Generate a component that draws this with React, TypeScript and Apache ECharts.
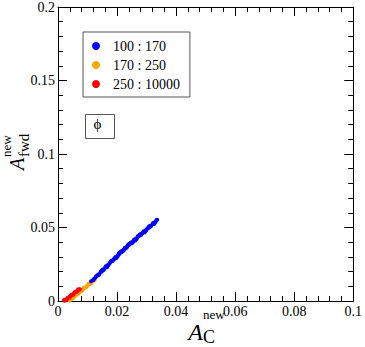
import React, { useEffect, useRef } from "react";
import * as echarts from "echarts";

const seriesNames = ["100 : 170", "170 : 250", "250 : 10000"];
const seriesColors = ["#0000ff", "#ffa500", "#ff0000"];
const xTicks = [0, 0.02, 0.04, 0.06, 0.08, 0.1];
const yTicks = [0, 0.05, 0.1, 0.15, 0.2];

const blueRun: [number, number][] = [
  [0.0112, 0.0135], [0.0118, 0.0142], [0.0122, 0.0152], [0.0127, 0.016], [0.0131, 0.0168],
  [0.0135, 0.0178], [0.014, 0.0184], [0.0144, 0.0195], [0.0148, 0.02], [0.0152, 0.0212],
  [0.0156, 0.0218], [0.016, 0.0228], [0.0164, 0.0232], [0.0168, 0.0244], [0.0172, 0.025],
  [0.0176, 0.0258], [0.018, 0.0268], [0.0184, 0.0272], [0.0188, 0.0283], [0.0192, 0.029],
  [0.0196, 0.0298], [0.02, 0.0303], [0.0204, 0.0315], [0.0208, 0.032], [0.0212, 0.033],
  [0.0216, 0.0335], [0.022, 0.0346], [0.0224, 0.035], [0.0228, 0.0362], [0.0232, 0.0366],
  [0.0236, 0.0376], [0.024, 0.038], [0.0244, 0.039], [0.0248, 0.0394], [0.0252, 0.0402],
  [0.0256, 0.041], [0.026, 0.0416], [0.0264, 0.0424], [0.0268, 0.043], [0.0272, 0.0438],
  [0.0276, 0.0444], [0.028, 0.0452], [0.0284, 0.0457], [0.0288, 0.0466], [0.0292, 0.0472],
  [0.0296, 0.048], [0.03, 0.0486], [0.0304, 0.0494], [0.0308, 0.05], [0.0312, 0.0508],
  [0.0316, 0.0514], [0.032, 0.0522], [0.0324, 0.0528], [0.0328, 0.0536], [0.0332, 0.0544],
  [0.0336, 0.0552],
  [0.012, 0.0143], [0.0129, 0.0168], [0.0138, 0.0177], [0.0146, 0.0202], [0.0154, 0.0209],
  [0.0162, 0.0236], [0.017, 0.0242], [0.0178, 0.0268], [0.0186, 0.0276], [0.0194, 0.0298],
  [0.0202, 0.0304], [0.021, 0.0331], [0.0218, 0.0336], [0.0226, 0.0361], [0.0234, 0.0368],
  [0.0242, 0.039], [0.025, 0.0392], [0.0258, 0.0419], [0.0266, 0.0421], [0.0274, 0.0445],
  [0.0282, 0.045], [0.029, 0.0474], [0.0298, 0.0478], [0.0306, 0.0502], [0.0314, 0.0506],
  [0.0322, 0.053], [0.033, 0.0535], [0.0334, 0.0551],
  [0.015, 0.0213], [0.0166, 0.023], [0.0182, 0.0274], [0.0198, 0.0292], [0.0214, 0.0339],
  [0.023, 0.0358], [0.0246, 0.0397], [0.0262, 0.0412], [0.0278, 0.0454], [0.0294, 0.0468],
  [0.031, 0.051], [0.0326, 0.0524], [0.0238, 0.0384], [0.0222, 0.0341], [0.019, 0.0286],
  [0.0206, 0.0325], [0.0254, 0.0399], [0.0270, 0.0441], [0.0286, 0.0461], [0.0302, 0.0491],
];

const orangeRun: [number, number][] = [
  [0.004, 0.0004], [0.0045, 0.0012], [0.005, 0.002], [0.0055, 0.003], [0.006, 0.0037],
  [0.0065, 0.0046], [0.007, 0.0054], [0.0075, 0.0063], [0.008, 0.0071], [0.0085, 0.008],
  [0.009, 0.0088], [0.0095, 0.0096], [0.01, 0.0105], [0.0105, 0.0113], [0.011, 0.0121],
  [0.0115, 0.013], [0.012, 0.0138], [0.0125, 0.0146],
  [0.0042, 0.0012], [0.0052, 0.002], [0.0058, 0.004], [0.0067, 0.0046], [0.0073, 0.0066],
  [0.0082, 0.007], [0.0088, 0.0092], [0.0097, 0.0096], [0.0103, 0.0117], [0.0112, 0.0121],
  [0.0118, 0.0141], [0.0122, 0.0139],
];

const redRun: [number, number][] = [
  [0.0022, 0.0002], [0.0026, 0.0008], [0.003, 0.0014], [0.0034, 0.002], [0.0038, 0.0027],
  [0.0042, 0.0033], [0.0046, 0.004], [0.005, 0.0046], [0.0054, 0.0053], [0.0058, 0.0059],
  [0.0062, 0.0066], [0.0066, 0.0072], [0.007, 0.0078], [0.0074, 0.008],
  [0.002, 0.0006], [0.0028, 0.0006], [0.0032, 0.0021], [0.004, 0.0024], [0.0044, 0.004],
  [0.0052, 0.0042], [0.0056, 0.006], [0.0064, 0.0063], [0.0068, 0.0079], [0.0072, 0.0076],
];

const FONT = "Liberation Serif, Times New Roman, DejaVu Serif, serif";

const fmt = (v: number) => String(+v.toFixed(4));

function makeXAxis(position: "bottom" | "top", showLabel: boolean) {
  return {
    type: "value",
    position,
    min: xTicks[0],
    max: xTicks[xTicks.length - 1],
    interval: xTicks[1] - xTicks[0],
    axisLine: { show: true, onZero: false, lineStyle: { color: "#000", width: 1 } },
    axisTick: { show: true, inside: true, length: 9, lineStyle: { color: "#000", width: 1 } },
    minorTick: { show: true, splitNumber: 5, length: 5, lineStyle: { color: "#000", width: 1 } },
    splitLine: { show: false },
    axisLabel: {
      show: showLabel,
      margin: 3,
      color: "#000",
      fontFamily: FONT,
      fontSize: 14,
      formatter: fmt,
    },
  };
}

function makeYAxis(position: "left" | "right", showLabel: boolean) {
  return {
    type: "value",
    position,
    min: yTicks[0],
    max: yTicks[yTicks.length - 1],
    interval: yTicks[1] - yTicks[0],
    axisLine: { show: true, onZero: false, lineStyle: { color: "#000", width: 1 } },
    axisTick: { show: true, inside: true, length: 9, lineStyle: { color: "#000", width: 1 } },
    minorTick: { show: true, splitNumber: 5, length: 5, lineStyle: { color: "#000", width: 1 } },
    splitLine: { show: false },
    axisLabel: {
      show: showLabel,
      margin: 3,
      color: "#000",
      fontFamily: FONT,
      fontSize: 14,
      formatter: fmt,
    },
  };
}

export default function App() {
  const ref = useRef<HTMLDivElement>(null);
  useEffect(() => {
    if (!ref.current) return;
    const chart = echarts.init(ref.current, null, { renderer: "svg" });
    const runs = [blueRun, orangeRun, redRun];
    const drawOrder = [1, 0, 2];
    chart.setOption({
      animation: false,
      backgroundColor: "#fff",
      textStyle: { fontFamily: FONT },
      grid: { left: 58, top: 5, width: 297, height: 296, containLabel: false },
      xAxis: [makeXAxis("bottom", true), makeXAxis("top", false)],
      yAxis: [makeYAxis("left", true), makeYAxis("right", false)],
      legend: {
        orient: "vertical",
        left: 83,
        top: 32,
        data: seriesNames,
        icon: "circle",
        itemWidth: 8,
        itemHeight: 8,
        itemGap: 5,
        padding: [7, 10, 6, 9],
        borderColor: "#555",
        borderWidth: 1,
        borderRadius: 0,
        textStyle: { fontFamily: FONT, fontSize: 14, color: "#000", padding: [0, 0, 0, 8] },
      },
      series: drawOrder.map((i) => ({
        name: seriesNames[i],
        type: "scatter",
        xAxisIndex: 0,
        yAxisIndex: 0,
        symbol: "circle",
        symbolSize: 4,
        itemStyle: { color: seriesColors[i], opacity: 1 },
        data: runs[i],
      })),
      graphic: [
        {
          type: "rect",
          left: 83,
          top: 112,
          shape: { width: 29, height: 24 },
          style: { fill: "none", stroke: "#555", lineWidth: 1 },
        },
        {
          type: "text",
          x: 97.5,
          y: 124,
          style: { text: "ϕ", fontFamily: FONT, fontSize: 15, fill: "#000", align: "center", verticalAlign: "middle" },
        },
        {
          type: "group",
          children: [
            {
              type: "text",
              x: 195.5,
              y: 331.5,
              style: { text: "A", fontFamily: FONT, fontStyle: "italic", fontSize: 24, fill: "#000", align: "center", verticalAlign: "middle" },
            },
            {
              type: "text",
              x: 203,
              y: 314,
              style: { text: "new", fontFamily: FONT, fontSize: 13, fill: "#000", align: "left", verticalAlign: "middle" },
            },
            {
              type: "text",
              x: 203,
              y: 336.5,
              style: { text: "C", fontFamily: FONT, fontSize: 18, fill: "#000", align: "left", verticalAlign: "middle" },
            },
          ],
        },
        {
          type: "group",
          x: 17,
          y: 164,
          rotation: Math.PI / 2,
          children: [
            {
              type: "text",
              x: 0,
              y: 0,
              style: { text: "A", fontFamily: FONT, fontStyle: "italic", fontSize: 20, fill: "#000", align: "center", verticalAlign: "middle" },
            },
            {
              type: "text",
              x: 7,
              y: -11,
              style: { text: "new", fontFamily: FONT, fontSize: 13, fill: "#000", align: "left", verticalAlign: "middle" },
            },
            {
              type: "text",
              x: 7,
              y: 7,
              style: { text: "fwd", fontFamily: FONT, fontSize: 15, fill: "#000", align: "left", verticalAlign: "middle" },
            },
          ],
        },
      ],
    });
    return () => chart.dispose();
  }, []);
  return (
    <div
      ref={ref}
      style={{ position: "fixed", left: 0, top: 0, width: 365, height: 347, background: "#fff" }}
    />
  );
}
